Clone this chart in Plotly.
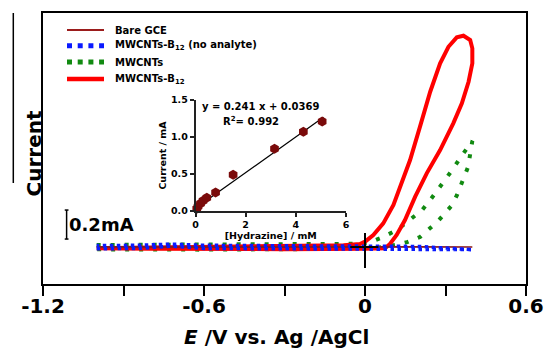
import plotly.graph_objects as go

# ---------------- data ----------------
# main CV curves: potential (V vs Ag/AgCl) and current (mA)
bare_x = [-1.0, -0.6, -0.2, 0.0, 0.2, 0.4, 0.2, 0.0, -0.2, -0.6, -1.0]
bare_y = [-0.004, -0.004, -0.003, -0.002, -0.002, 0.0, 0.002, 0.003, 0.003, 0.003, 0.002]

blue_x = [-1.0, -0.85, -0.72, -0.6, -0.3, 0.0, 0.2, 0.4, 0.2, 0.0, -0.3, -0.6, -0.72, -0.85, -1.0]
blue_y = [-0.012, -0.01, 0.006, -0.01, -0.012, -0.014, -0.016, -0.018, 0.004, 0.006, 0.008, 0.012, 0.02, 0.012, 0.01]

green_x = [-1.0, -0.6, -0.2, -0.05, 0.011, 0.067, 0.119, 0.168, 0.213, 0.243, 0.280, 0.325, 0.362, 0.4,
           0.384, 0.362, 0.343, 0.325, 0.299, 0.269, 0.243, 0.205, 0.157, 0.112, 0.05, -0.2, -0.6, -1.0]
green_y = [0.014, 0.015, 0.018, 0.022, 0.028, 0.069, 0.117, 0.186, 0.255, 0.324, 0.414, 0.531, 0.634, 0.731,
           0.552, 0.441, 0.359, 0.29, 0.234, 0.172, 0.131, 0.069, 0.034, 0.014, -0.004, -0.014, -0.018, -0.016]

red_x = [-1.0, -0.8, -0.6, -0.4, -0.2, -0.08, -0.019, 0.0, 0.031, 0.068, 0.106, 0.137, 0.168, 0.205, 0.243,
         0.280, 0.311, 0.342, 0.367, 0.392, 0.4, 0.4, 0.386, 0.361, 0.329, 0.280, 0.230, 0.187, 0.149,
         0.118, 0.093, 0.075, 0.0, -0.3, -0.6, -0.8, -1.0]
red_y = [-0.008, -0.004, 0.0, 0.0, 0.006, 0.012, 0.021, 0.037, 0.083, 0.163, 0.29, 0.439, 0.6, 0.83, 1.071,
         1.267, 1.381, 1.446, 1.457, 1.428, 1.37, 1.267, 1.14, 0.991, 0.853, 0.669, 0.508, 0.347, 0.186,
         0.083, 0.021, -0.009, -0.012, -0.015, -0.015, -0.012, -0.008]

# inset calibration: hydrazine concentration (mM) vs current (mA)
conc = [0.05, 0.1, 0.2, 0.3, 0.45, 0.8, 1.5, 3.15, 4.3, 5.05]
curr = [0.03, 0.06, 0.1, 0.14, 0.18, 0.25, 0.49, 0.84, 1.07, 1.21]
fit_slope = 0.241
fit_intercept = 0.0369
fit_x = [0.0, 5.1]
fit_y = [fit_slope * v + fit_intercept for v in fit_x]

x_tickvals = [-1.2, -0.6, 0.0, 0.6]
x_ticktext = ["-1.2", "-0.6", "0", "0.6"]
x_minor_tickvals = [-0.9, -0.3, 0.3]

legend_names = ["Bare GCE", "MWCNTs-B<sub>12</sub> (no analyte)", "MWCNTs", "MWCNTs-B<sub>12</sub>"]

# ---------------- figure ----------------
FONT = "DejaVu Sans"
W, H = 544, 354
ML, MR, MT, MB = 43, 18, 13, 70
PW, PH = W - ML - MR, H - MT - MB


def pxx(px):
    return (px - ML) / PW


def pxy(py):
    return (H - MB - py) / PH


fig = go.Figure()

fig.add_trace(go.Scatter(x=green_x, y=green_y, mode="lines", line=dict(color="#118a11", width=4, dash="4px,10px"),
                         showlegend=False, hoverinfo="skip"))
fig.add_trace(go.Scatter(x=red_x, y=red_y, mode="lines", line=dict(color="#ff0000", width=4),
                         showlegend=False, hoverinfo="skip"))
fig.add_trace(go.Scatter(x=bare_x, y=bare_y, mode="lines", line=dict(color="#8b1a1a", width=1.5),
                         showlegend=False, hoverinfo="skip"))
fig.add_trace(go.Scatter(x=blue_x, y=blue_y, mode="lines", line=dict(color="#0a1aff", width=3.5, dash="3.5px,3.5px"),
                         showlegend=False, hoverinfo="skip"))

# inset
fig.add_trace(go.Scatter(x=fit_x, y=fit_y, mode="lines", line=dict(color="black", width=1.2),
                         xaxis="x2", yaxis="y2", showlegend=False, hoverinfo="skip", cliponaxis=False))
fig.add_trace(go.Scatter(x=conc, y=curr, mode="markers",
                         marker=dict(symbol="hexagon", size=10, color="#7a0a0a", line=dict(width=0)),
                         xaxis="x2", yaxis="y2", showlegend=False, hoverinfo="skip", cliponaxis=False))

bold = dict(family=FONT, weight="bold", color="black")

fig.update_layout(
    width=W, height=H,
    margin=dict(l=ML, r=MR, t=MT, b=MB, autoexpand=False),
    paper_bgcolor="white", plot_bgcolor="white",
    showlegend=False,
    xaxis=dict(domain=[0, 1], range=[-1.2, 0.6], tickvals=x_tickvals, ticktext=x_ticktext, automargin=False,
               ticks="outside", ticklen=10, tickwidth=2, tickcolor="black", ticklabelstandoff=-7,
               minor=dict(tickvals=x_minor_tickvals, ticks="outside", ticklen=10, tickwidth=2,
                          tickcolor="black", showgrid=False),
               showline=True, linewidth=2, linecolor="black", mirror=True,
               showgrid=False, zeroline=False, tickfont=dict(size=20, **bold)),
    yaxis=dict(domain=[0, 1], range=[-0.255, 1.614], showticklabels=False, ticks="", automargin=False,
               showline=True, linewidth=2, linecolor="black", mirror=True,
               showgrid=False, zeroline=False),
    xaxis2=dict(domain=[pxx(195.5), pxx(346)], anchor="y2", range=[0, 6], dtick=2, automargin=False,
                ticks="outside", ticklen=4, tickwidth=1.5, tickcolor="#222",
                showline=True, linewidth=1.5, linecolor="#222", showgrid=False, zeroline=False,
                tickfont=dict(size=9.5, **bold),
                title=dict(text="[Hydrazine] / mM", font=dict(size=9.5, **bold), standoff=1)),
    yaxis2=dict(domain=[pxy(211), pxy(100)], anchor="x2", range=[0, 1.5], dtick=0.5, tickformat=".1f",
                automargin=False,
                ticks="outside", ticklen=4, tickwidth=1.5, tickcolor="#222",
                showline=True, linewidth=1.5, linecolor="#222", showgrid=False, zeroline=False,
                tickfont=dict(size=9.5, **bold),
                title=dict(text="Current / mA", font=dict(size=9.5, **bold), standoff=3)),
)

shapes = []
annotations = []

# y-axis label "Current" with its line
annotations.append(dict(text="Current", x=pxx(19.5), y=pxy(154), xref="paper", yref="paper",
                        textangle=-90, showarrow=False, font=dict(size=20, **bold)))
shapes.append(dict(type="line", xref="paper", yref="paper", x0=pxx(13.3), x1=pxx(13.3), y0=pxy(13), y1=pxy(183),
                   line=dict(color="black", width=1.5)))

# x-axis title
annotations.append(dict(text="<i>E</i> /V vs. Ag /AgCl", x=pxx(276), y=pxy(337), xref="paper", yref="paper",
                        showarrow=False, font=dict(size=20, **bold), yanchor="middle"))

# scale bar 0.2 mA
bar_x = -1.112
shapes.append(dict(type="line", x0=bar_x, x1=bar_x, y0=0.055, y1=0.255, line=dict(color="black", width=1.5)))
for yy in (0.055, 0.255):
    shapes.append(dict(type="line", x0=bar_x - 0.007, x1=bar_x + 0.007, y0=yy, y1=yy, line=dict(color="black", width=1.5)))
annotations.append(dict(text="0.2mA", x=-0.982, y=0.152, showarrow=False, font=dict(size=18, **bold)))

# origin cross
shapes.append(dict(type="line", x0=0, x1=0, y0=-0.145, y1=0.097, line=dict(color="black", width=2), layer="above"))
shapes.append(dict(type="line", x0=-0.055, x1=0.05, y0=0, y1=0, line=dict(color="black", width=2), layer="above"))

# legend (drawn manually)
leg_rows = [30, 45.7, 62, 79]
leg_styles = [dict(color="#9b1c1c", width=2),
              dict(color="#0a1aff", width=5, dash="5px,5.7px"),
              dict(color="#118a11", width=5, dash="5px,5.7px"),
              dict(color="#ff0000", width=4.5)]
for row, name, st in zip(leg_rows, legend_names, leg_styles):
    shapes.append(dict(type="line", xref="paper", yref="paper", x0=pxx(67), x1=pxx(104), y0=pxy(row), y1=pxy(row), line=st))
    annotations.append(dict(text=name, x=pxx(113), y=pxy(row), xref="paper", yref="paper", xanchor="left",
                            yanchor="middle", showarrow=False, font=dict(size=10, **bold)))

# inset regression text
annotations.append(dict(text="y = 0.241 x + 0.0369", x=pxx(260), y=pxy(106), xref="paper", yref="paper",
                        showarrow=False, font=dict(size=10, **bold)))
annotations.append(dict(text="R<sup>2</sup>= 0.992", x=pxx(251), y=pxy(121), xref="paper", yref="paper",
                        showarrow=False, font=dict(size=10, **bold)))

fig.update_layout(shapes=shapes, annotations=annotations)
fig.write_html("out.html")
